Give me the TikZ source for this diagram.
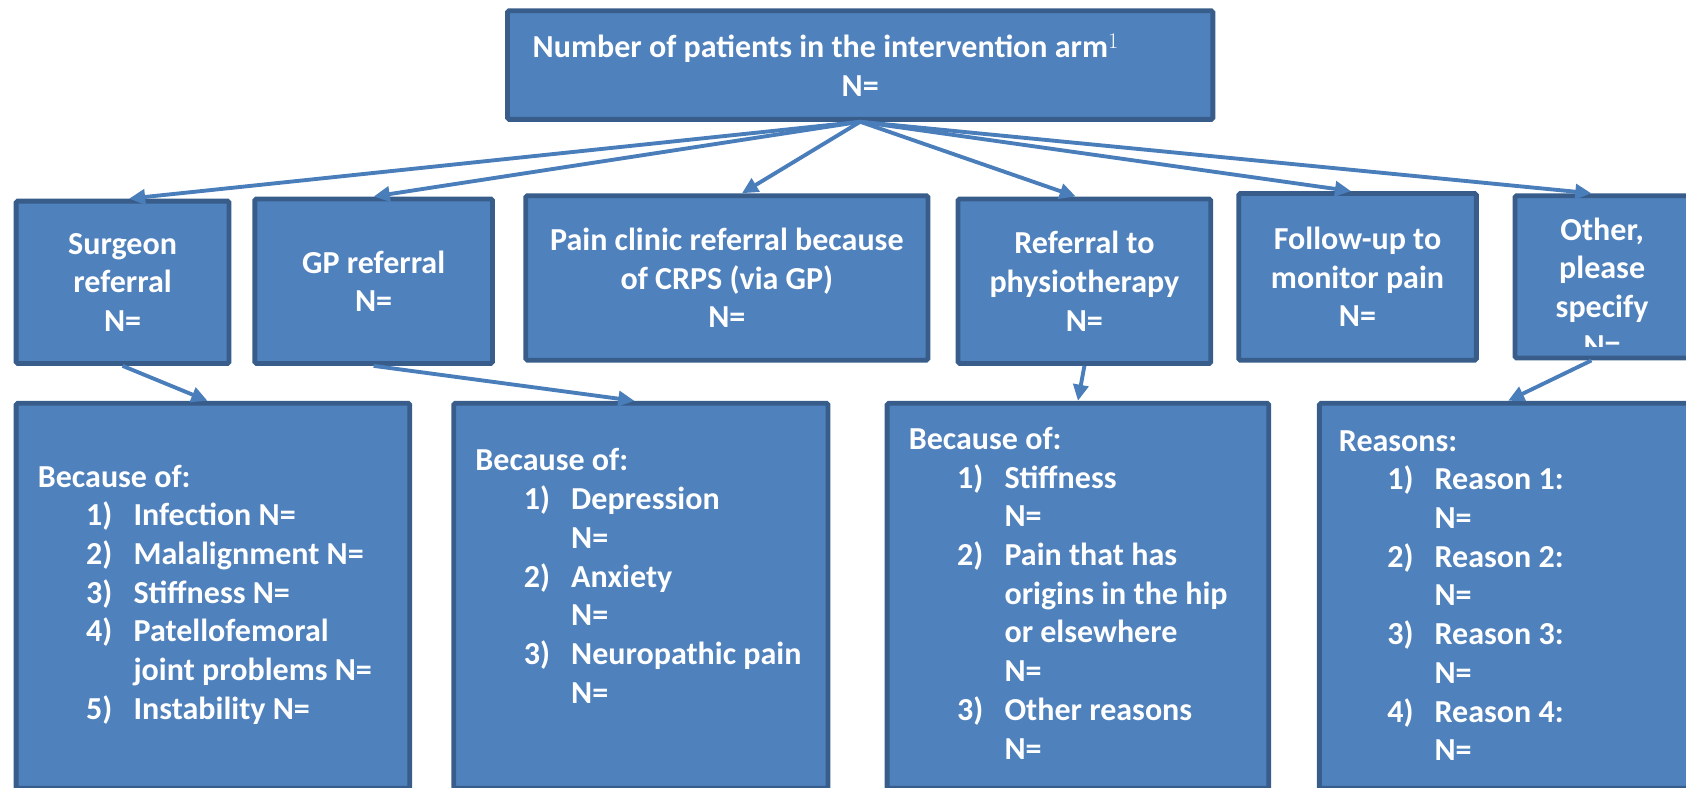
\documentclass[tikz,border=0pt]{standalone}
\usepackage{fontspec}
\setmainfont{Carlito}
\usetikzlibrary{arrows.meta}
\definecolor{boxfill}{HTML}{4F81BD}
\definecolor{boxline}{HTML}{385D8A}
\definecolor{linkblue}{HTML}{4A7EBB}
\pgfmathsetmacro{\numindent}{45}
\pgfmathsetmacro{\itemindent}{89}
\newcommand{\numitem}[2]{\hspace*{\numindent pt}\makebox[44pt][l]{#1}#2}
\newcommand{\contitem}[1]{\hspace*{\itemindent pt}#1}
\tikzset{
  box/.style={draw=boxline, fill=boxfill, line width=4.5pt, rounded corners=1.5pt, inner sep=0pt},
  boxtext/.style={text=white, font=\fontsize{29.8}{36}\selectfont\bfseries, align=center, inner sep=0pt},
  listtext/.style={boxtext, align=left, anchor=north west},
  link/.style={draw=linkblue, line width=3.6pt, -{Triangle[length=15pt,width=14pt]}},
}

\begin{document}
\begin{tikzpicture}[x=1pt, y=-1pt]
    \clip (0,0) rectangle (1568,732);
    % top box
    \node[box, boxtext, minimum width=656pt, minimum height=101pt] (top) at (800,60.5)
        {Number of patients in the intervention arm$^{1}$\hspace*{64pt}\\N=};
    % reasons for referral
    \node[box, boxtext, minimum width=198pt, minimum height=151pt] (surg) at (114,262.5) {Surgeon\\referral\\N=};
    \node[box, boxtext, minimum width=221pt, minimum height=153pt] (gp) at (347.5,261.5) {GP referral\\N=};
    \node[box, boxtext, minimum width=374pt, minimum height=153pt] (pain) at (676,258.5)
        {Pain clinic referral because\\of CRPS (via GP)\\N=};
    \node[box, boxtext, minimum width=235pt, minimum height=153pt] (physio) at (1008.5,261.5)
        {Referral to\\physiotherapy\\N=};
    \node[box, boxtext, minimum width=221pt, minimum height=155pt] (follow) at (1262.5,257.5)
        {Follow-up to\\monitor pain\\N=};
    \node[box, minimum width=162pt, minimum height=151pt] (other) at (1490,257.5) {};
    \begin{scope}
        \clip (other.north west) rectangle ([yshift=13pt]other.south east);
        \node[boxtext] (othertext) at (1490,267) {Other,\\please\\specify\\N=};
    \end{scope}
    % boxes with the causes
    \node[box, minimum width=366pt, minimum height=358pt] (surgwhy) at (198,554) {};
    \node[box, minimum width=348pt, minimum height=358pt] (gpwhy) at (596,554) {};
    \node[box, minimum width=355pt, minimum height=358pt] (physiowhy) at (1002.5,554) {};
    \node[box, minimum width=351pt, minimum height=358pt] (otherwhy) at (1402.5,554) {};
    % arrows
    \draw[link] (top.south) -- ([xshift=6pt]surg.north);
    \draw[link] (top.south) -- (gp.north);
    \draw[link] (top.south) -- ([xshift=14pt]pain.north);
    \draw[link] (top.south) -- ([xshift=-8pt]physio.north);
    \draw[link] (top.south) -- ([xshift=-6pt]follow.north);
    \draw[link] (top.south) -- ([xshift=-10pt]other.north);
    \draw[link] (surg.south) -- ([xshift=-5pt]surgwhy.north);
    \draw[link] (gp.south) -- ([xshift=-6pt]gpwhy.north);
    \draw[link] (physio.south) -- (physiowhy.north);
    \draw[link] ([xshift=-10pt]other.south) -- (otherwhy.north);
    % lists
    \node[listtext] (surglist) at (35,432) {Because of:\\
        \numitem{1)}{Infection N=}\\
        \numitem{2)}{Malalignment N=}\\
        \numitem{3)}{Stiffness N=}\\
        \numitem{4)}{Patellofemoral}\\
        \contitem{joint problems N=}\\
        \numitem{5)}{Instability N=}};
    \node[listtext] (gplist) at (442,417) {Because of:\\
        \numitem{1)}{Depression}\\
        \contitem{N=}\\
        \numitem{2)}{Anxiety}\\
        \contitem{N=}\\
        \numitem{3)}{Neuropathic pain}\\
        \contitem{N=}};
    \node[listtext] (physiolist) at (845,397) {Because of:\\
        \numitem{1)}{Stiffness}\\
        \contitem{N=}\\
        \numitem{2)}{Pain that has}\\
        \contitem{origins in the hip}\\
        \contitem{or elsewhere}\\
        \contitem{N=}\\
        \numitem{3)}{Other reasons}\\
        \contitem{N=}};
    \node[listtext] (otherlist) at (1245,400) {Reasons:\\
        \numitem{1)}{Reason 1:}\\
        \contitem{N=}\\
        \numitem{2)}{Reason 2:}\\
        \contitem{N=}\\
        \numitem{3)}{Reason 3:}\\
        \contitem{N=}\\
        \numitem{4)}{Reason 4:}\\
        \contitem{N=}};
\end{tikzpicture}
\end{document}
